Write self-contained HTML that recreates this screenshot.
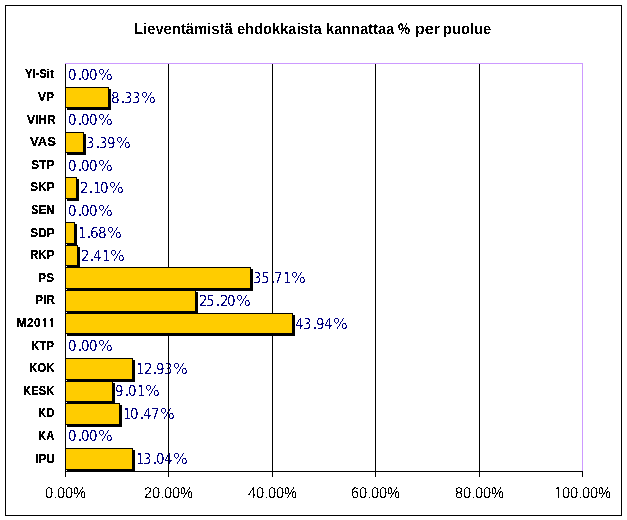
<!DOCTYPE html>
<html><head><meta charset="utf-8"><title>Lieventämistä ehdokkaista kannattaa % per puolue</title>
<style>
html,body{margin:0;padding:0;background:#fff;}
body{width:627px;height:520px;position:relative;overflow:hidden;font-family:"Liberation Sans",Arial,sans-serif;}
.a{position:absolute;}
svg.a{left:0;top:0;}
text{font-family:"Liberation Sans",Arial,sans-serif;}
.d,.x,.t{text-rendering:geometricPrecision;}
.c{font-weight:bold;font-size:12px;fill:#000;}
.d{font-family:"DejaVu Sans Condensed","DejaVu Sans",sans-serif;font-stretch:condensed;font-size:15px;fill:#000080;letter-spacing:0.1px;}
.dt{font-family:"DejaVu Sans",sans-serif;font-stretch:normal;font-weight:bold;font-size:12px;letter-spacing:0;}
.pc{font-family:"DejaVu Sans",sans-serif;font-stretch:normal;font-size:15.5px;letter-spacing:0;}
.x{font-size:14.67px;fill:#000;}
.xd{font-size:10px;}
.n1{font-family:NanumGothic,"Liberation Sans",sans-serif;}
.n1b{font-family:NanumGothic,"Liberation Sans",sans-serif;font-weight:bold;}
.t{font-weight:bold;font-size:14.67px;fill:#000;}
.s{position:absolute;background:#000;}
.b{position:absolute;background:#FFCC00;border:1px solid #000;box-sizing:border-box;}
</style></head><body>
<div class="a" style="left:5px;top:5px;width:617px;height:511px;border:1px solid #000;box-sizing:border-box"></div>
<svg class="a" width="627" height="520"><defs><filter id="ft" x="0" y="0" width="100%" height="100%"><feComponentTransfer><feFuncA type="discrete" tableValues="0 1"/></feComponentTransfer></filter><filter id="fc" x="0" y="0" width="100%" height="100%"><feComponentTransfer><feFuncA type="discrete" tableValues="0 1 1"/></feComponentTransfer></filter><filter id="fd" x="0" y="0" width="100%" height="100%"><feComponentTransfer><feFuncA type="discrete" tableValues="0 0 0 0 0 0 0 0 0 0 0 1 1 1 1 1 1 1 1 1"/></feComponentTransfer></filter><filter id="fx" x="0" y="0" width="100%" height="100%"><feComponentTransfer><feFuncA type="discrete" tableValues="0 1"/></feComponentTransfer></filter></defs>
<g filter="url(#ft)">
<text class="t" transform="translate(0 34) scale(1 1.06)" x="133.99" y="0" textLength="98.76" lengthAdjust="spacingAndGlyphs">Lieventämistä</text>
<text class="t" transform="translate(0 34) scale(1 1.06)" x="237.00" y="0" textLength="84.72" lengthAdjust="spacingAndGlyphs">ehdokkaista</text>
<text class="t" transform="translate(0 34) scale(1 1.06)" x="326.00" y="0" textLength="68.44" lengthAdjust="spacingAndGlyphs">kannattaa</text>
<text class="t" transform="translate(0 34) scale(1 1.06)" x="398.00" y="0" textLength="12.04" lengthAdjust="spacingAndGlyphs">%</text>
<text class="t" transform="translate(0 34) scale(1 1.06)" x="414.90" y="0" textLength="24.99" lengthAdjust="spacingAndGlyphs">per</text>
<text class="t" transform="translate(0 34) scale(1 1.06)" x="443.00" y="0" textLength="48.05" lengthAdjust="spacingAndGlyphs">puolue</text>
</g>
<g filter="url(#fc)">
<text class="c" x="25.00" y="78" textLength="28.69" lengthAdjust="spacingAndGlyphs">Yl-Sit</text>
<text class="c" x="38.00" y="101" textLength="16.02" lengthAdjust="spacingAndGlyphs">VP</text>
<text class="c" x="27.00" y="124" textLength="28.67" lengthAdjust="spacingAndGlyphs">VIHR</text>
<text class="c" x="30.00" y="146" textLength="25.87" lengthAdjust="spacingAndGlyphs">VAS</text>
<text class="c" x="31.00" y="169" textLength="23.34" lengthAdjust="spacingAndGlyphs">STP</text>
<text class="c" x="30.00" y="191" textLength="24.69" lengthAdjust="spacingAndGlyphs">SKP</text>
<text class="c" x="31.04" y="214" textLength="23.61" lengthAdjust="spacingAndGlyphs">SEN</text>
<text class="c" x="30.00" y="237" textLength="24.69" lengthAdjust="spacingAndGlyphs">SDP</text>
<text class="c" x="30.04" y="259" textLength="24.29" lengthAdjust="spacingAndGlyphs">RKP</text>
<text class="c" x="38.00" y="282" textLength="16.02" lengthAdjust="spacingAndGlyphs">PS</text>
<text class="c" x="35.00" y="304" textLength="20.02" lengthAdjust="spacingAndGlyphs">PIR</text>
<text class="c" x="16.6" y="327" textLength="10.4" lengthAdjust="spacingAndGlyphs">M</text>
<text class="c" x="27 34 41 48" y="327">20<tspan class="n1b">11</tspan></text>
<text class="c" x="31.04" y="350" textLength="22.96" lengthAdjust="spacingAndGlyphs">KTP</text>
<text class="c" x="29.04" y="372" textLength="25.61" lengthAdjust="spacingAndGlyphs">KOK</text>
<text class="c" x="23.06" y="395" textLength="31.26" lengthAdjust="spacingAndGlyphs">KESK</text>
<text class="c" x="38.06" y="417" textLength="16.26" lengthAdjust="spacingAndGlyphs">KD</text>
<text class="c" x="38.06" y="440" textLength="16.26" lengthAdjust="spacingAndGlyphs">KA</text>
<text class="c" x="35.00" y="463" textLength="20.02" lengthAdjust="spacingAndGlyphs">IPU</text>
</g>
<g filter="url(#fd)">
<text class="d" x="68 77.5 81 89 98" y="80">0<tspan class="dt">.</tspan>00<tspan class="pc">%</tspan></text>
<text class="d" x="111 120.5 124 132 141" y="103">8<tspan class="dt">.</tspan>33<tspan class="pc">%</tspan></text>
<text class="d" x="68 77.5 81 89 98" y="125">0<tspan class="dt">.</tspan>00<tspan class="pc">%</tspan></text>
<text class="d" x="86 95.5 99 107 116" y="148">3<tspan class="dt">.</tspan>39<tspan class="pc">%</tspan></text>
<text class="d" x="68 77.5 81 89 98" y="171">0<tspan class="dt">.</tspan>00<tspan class="pc">%</tspan></text>
<text class="d" x="80 88.5 93 100 109" y="193">2<tspan class="dt">.</tspan>10<tspan class="pc">%</tspan></text>
<text class="d" x="68 77.5 81 89 98" y="216">0<tspan class="dt">.</tspan>00<tspan class="pc">%</tspan></text>
<text class="d" x="78 86.5 90 98 107" y="238">1<tspan class="dt">.</tspan>68<tspan class="pc">%</tspan></text>
<text class="d" x="81 89.5 93 102 110" y="261">2<tspan class="dt">.</tspan>41<tspan class="pc">%</tspan></text>
<text class="d" x="253 261 270.5 274 283 291" y="283">35<tspan class="dt">.</tspan>71<tspan class="pc">%</tspan></text>
<text class="d" x="199 206 215.5 220 227 236" y="306">25<tspan class="dt">.</tspan>20<tspan class="pc">%</tspan></text>
<text class="d" x="295 303 312.5 316 324 333" y="329">43<tspan class="dt">.</tspan>94<tspan class="pc">%</tspan></text>
<text class="d" x="68 77.5 81 89 98" y="351">0<tspan class="dt">.</tspan>00<tspan class="pc">%</tspan></text>
<text class="d" x="136 144 152.5 156 164 173" y="374">12<tspan class="dt">.</tspan>93<tspan class="pc">%</tspan></text>
<text class="d" x="115 124.5 128 137 145" y="396">9<tspan class="dt">.</tspan>01<tspan class="pc">%</tspan></text>
<text class="d" x="123 130 139.5 143 151 160" y="419">10<tspan class="dt">.</tspan>47<tspan class="pc">%</tspan></text>
<text class="d" x="68 77.5 81 89 98" y="441">0<tspan class="dt">.</tspan>00<tspan class="pc">%</tspan></text>
<text class="d" x="136 143 152.5 156 164 173" y="464">13<tspan class="dt">.</tspan>04<tspan class="pc">%</tspan></text>
</g>
<g filter="url(#fx)">
<text class="x" transform="translate(0 498) scale(1 1.06)" x="45 54 57 65 73" y="0">0<tspan class="xd">.</tspan>00%</text>
<text class="x" transform="translate(0 498) scale(1 1.06)" x="144 152 161 164 172 180" y="0">20<tspan class="xd">.</tspan>00%</text>
<text class="x" transform="translate(0 498) scale(1 1.06)" x="248 256 265 268 276 284" y="0">40<tspan class="xd">.</tspan>00%</text>
<text class="x" transform="translate(0 498) scale(1 1.06)" x="351 359 368 371 379 387" y="0">60<tspan class="xd">.</tspan>00%</text>
<text class="x" transform="translate(0 498) scale(1 1.06)" x="455 463 472 475 483 491" y="0">80<tspan class="xd">.</tspan>00%</text>
<text class="x" transform="translate(0 498) scale(1 1.06)" x="554 562 570 579 582 590 598" y="0"><tspan class="n1">1</tspan>00<tspan class="xd">.</tspan>00%</text>
</g>
</svg>
<div class="a" style="left:65px;top:63px;width:518px;height:1px;background:#CC99FF"></div>
<div class="a" style="left:582px;top:63px;width:1px;height:408px;background:#CC99FF"></div>
<div class="a" style="left:168px;top:64px;width:1px;height:407px;background:#000"></div>
<div class="a" style="left:272px;top:64px;width:1px;height:407px;background:#000"></div>
<div class="a" style="left:375px;top:64px;width:1px;height:407px;background:#000"></div>
<div class="a" style="left:479px;top:64px;width:1px;height:407px;background:#000"></div>
<div class="s" style="left:67px;top:450px;width:68px;height:22px"></div>
<div class="b" style="left:65px;top:448px;width:68px;height:22px"></div>
<div class="s" style="left:67px;top:405px;width:55px;height:22px"></div>
<div class="b" style="left:65px;top:403px;width:55px;height:22px"></div>
<div class="s" style="left:67px;top:383px;width:48px;height:21px"></div>
<div class="b" style="left:65px;top:381px;width:48px;height:21px"></div>
<div class="s" style="left:67px;top:360px;width:68px;height:22px"></div>
<div class="b" style="left:65px;top:358px;width:68px;height:22px"></div>
<div class="s" style="left:67px;top:315px;width:228px;height:21px"></div>
<div class="b" style="left:65px;top:313px;width:228px;height:21px"></div>
<div class="s" style="left:67px;top:292px;width:131px;height:22px"></div>
<div class="b" style="left:65px;top:290px;width:131px;height:22px"></div>
<div class="s" style="left:67px;top:269px;width:186px;height:22px"></div>
<div class="b" style="left:65px;top:267px;width:186px;height:22px"></div>
<div class="s" style="left:67px;top:247px;width:13px;height:21px"></div>
<div class="b" style="left:65px;top:245px;width:13px;height:21px"></div>
<div class="s" style="left:67px;top:224px;width:10px;height:22px"></div>
<div class="b" style="left:65px;top:222px;width:10px;height:22px"></div>
<div class="s" style="left:67px;top:179px;width:12px;height:22px"></div>
<div class="b" style="left:65px;top:177px;width:12px;height:22px"></div>
<div class="s" style="left:67px;top:134px;width:19px;height:21px"></div>
<div class="b" style="left:65px;top:132px;width:19px;height:21px"></div>
<div class="s" style="left:67px;top:89px;width:44px;height:21px"></div>
<div class="b" style="left:65px;top:87px;width:44px;height:21px"></div>
<div class="a" style="left:65px;top:64px;width:1px;height:413px;background:#000"></div>
<div class="a" style="left:65px;top:471px;width:518px;height:1px;background:#000"></div>
<div class="a" style="left:65px;top:471px;width:1px;height:6px;background:#000"></div>
<div class="a" style="left:168px;top:471px;width:1px;height:6px;background:#000"></div>
<div class="a" style="left:272px;top:471px;width:1px;height:6px;background:#000"></div>
<div class="a" style="left:375px;top:471px;width:1px;height:6px;background:#000"></div>
<div class="a" style="left:479px;top:471px;width:1px;height:6px;background:#000"></div>
<div class="a" style="left:582px;top:471px;width:1px;height:6px;background:#000"></div>
</body></html>
